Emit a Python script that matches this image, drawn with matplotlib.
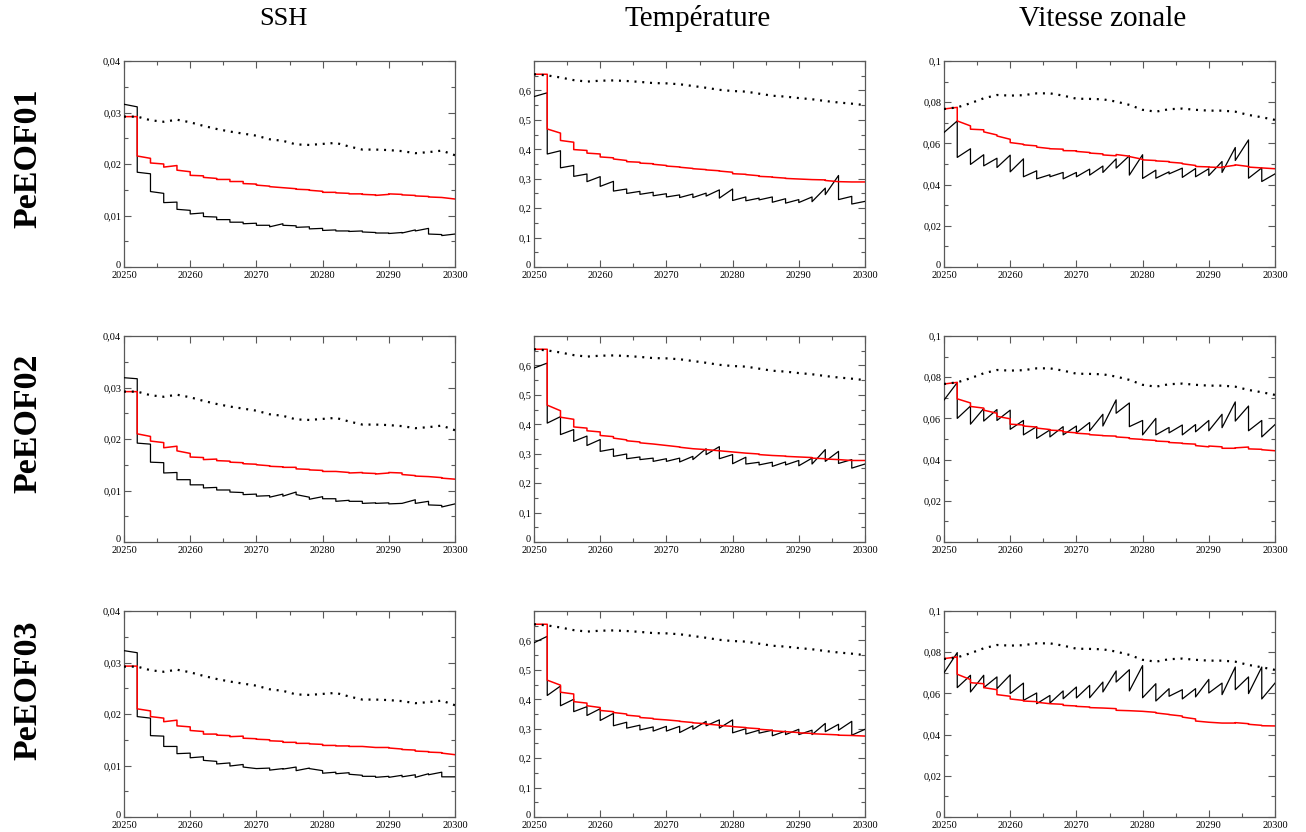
import numpy as np
import matplotlib
matplotlib.use("Agg")
import matplotlib.pyplot as plt
import matplotlib.transforms as mtransforms
from matplotlib.ticker import FixedLocator, MultipleLocator, FuncFormatter

# ---------------- data ----------------
cycle_edges = np.arange(20250, 20301, 2)  # assimilation cycles (2-day)

col_titles = ["SSH", "Température", "Vitesse zonale"]
row_labels = ["PeEOF01", "PeEOF02", "PeEOF03"]

# free run (dotted), one per variable, at cycle edges
ssh_free = [0.0292, 0.0292, 0.0285, 0.0282, 0.0286, 0.0281, 0.0274, 0.0268, 0.0263, 0.0259, 0.0255, 0.0248, 0.0245,
            0.0238, 0.0237, 0.0239, 0.0241, 0.0234, 0.0228, 0.0228, 0.0227, 0.0225, 0.0221, 0.0223, 0.0226, 0.0217]
temp_free = [0.655, 0.651, 0.644, 0.635, 0.630, 0.633, 0.634, 0.632, 0.629, 0.625, 0.624, 0.621, 0.615,
             0.609, 0.602, 0.598, 0.596, 0.589, 0.582, 0.579, 0.574, 0.570, 0.564, 0.559, 0.555, 0.550]
u_free = [0.0767, 0.0775, 0.0795, 0.0819, 0.0835, 0.0832, 0.0834, 0.0843, 0.0843, 0.0832, 0.0817, 0.0816, 0.0814,
          0.0803, 0.0787, 0.0763, 0.0754, 0.0766, 0.0769, 0.0763, 0.0759, 0.0759, 0.0754, 0.0738, 0.0727, 0.0714]

# black (forecast) and red (analysis): value at start and end of each cycle
ssh_b1_start = [0.0316, 0.0184, 0.01465, 0.0125, 0.0112, 0.0103, 0.0098, 0.0092, 0.0087, 0.0084, 0.0081, 0.0078, 0.0081,
                0.0077, 0.0074, 0.0071, 0.0070, 0.0069, 0.0068, 0.0066, 0.0065, 0.0066, 0.0070, 0.0064, 0.0061]
ssh_b1_end = [0.0311, 0.0181, 0.0143, 0.0126, 0.0110, 0.0105, 0.0097, 0.0092, 0.0087, 0.0085, 0.0081, 0.0084, 0.0080,
              0.0078, 0.0075, 0.0072, 0.0070, 0.0070, 0.0067, 0.0066, 0.0067, 0.0072, 0.0075, 0.0063, 0.0064]
ssh_r1_start = [0.0292, 0.02155, 0.0202, 0.0194, 0.0188, 0.0178, 0.0174, 0.0170, 0.0166, 0.0162, 0.0159, 0.0156, 0.0154,
                0.0151, 0.0149, 0.0145, 0.0144, 0.0142, 0.0141, 0.0139, 0.0142, 0.0140, 0.0138, 0.0136, 0.0135]
ssh_r1_end = [0.0292, 0.0211, 0.0200, 0.0197, 0.0185, 0.0177, 0.0172, 0.0170, 0.0166, 0.0161, 0.0157, 0.0154, 0.0152,
              0.0150, 0.0147, 0.0145, 0.0143, 0.0142, 0.0140, 0.0141, 0.0141, 0.0139, 0.0137, 0.0135, 0.0132]

ssh_b2_start = [0.0319, 0.0192, 0.0155, 0.0134, 0.0121, 0.0111, 0.0105, 0.0101, 0.0097, 0.0092, 0.0089, 0.0087, 0.0089,
                0.0092, 0.0083, 0.0084, 0.0079, 0.0079, 0.0075, 0.0075, 0.0074, 0.0075, 0.0075, 0.0072, 0.0068]
ssh_b2_end = [0.0317, 0.0190, 0.0154, 0.0135, 0.0121, 0.0111, 0.0106, 0.0101, 0.0096, 0.0093, 0.0090, 0.0093, 0.0097,
              0.0087, 0.0088, 0.0084, 0.0081, 0.0079, 0.0076, 0.0076, 0.0075, 0.0082, 0.0079, 0.0071, 0.0074]
ssh_r2_start = [0.0292, 0.0210, 0.0196, 0.0183, 0.0177, 0.0165, 0.0160, 0.0158, 0.0155, 0.0152, 0.0150, 0.0147, 0.0145,
                0.0142, 0.0140, 0.0137, 0.0137, 0.0134, 0.0134, 0.0132, 0.0135, 0.0131, 0.0128, 0.0127, 0.0124]
ssh_r2_end = [0.0292, 0.0205, 0.0193, 0.0186, 0.0172, 0.0164, 0.0161, 0.0157, 0.0154, 0.0151, 0.0148, 0.0146, 0.0145,
              0.0141, 0.0139, 0.0137, 0.0135, 0.0135, 0.0133, 0.0134, 0.0134, 0.0129, 0.0127, 0.0125, 0.0122]

ssh_b3_start = [0.0323, 0.0195, 0.0158, 0.0137, 0.0123, 0.0115, 0.0110, 0.0103, 0.0099, 0.0097, 0.0094, 0.0091, 0.0093,
                0.0090, 0.0094, 0.0085, 0.0084, 0.0083, 0.0079, 0.0077, 0.0077, 0.0078, 0.0077, 0.0082, 0.0078]
ssh_b3_end = [0.0319, 0.0192, 0.0157, 0.0137, 0.0124, 0.0117, 0.0108, 0.0105, 0.0102, 0.0094, 0.0095, 0.0094, 0.0097,
              0.0095, 0.0090, 0.0087, 0.0086, 0.0081, 0.0079, 0.0079, 0.0081, 0.0082, 0.0084, 0.0087, 0.0078]
ssh_r3_start = [0.0293, 0.0210, 0.0195, 0.0185, 0.0177, 0.0168, 0.0161, 0.0159, 0.0156, 0.0153, 0.0151, 0.0148, 0.0145,
                0.0143, 0.0142, 0.0139, 0.0138, 0.0137, 0.0137, 0.0135, 0.0134, 0.0131, 0.0128, 0.0126, 0.0124]
ssh_r3_end = [0.0293, 0.0206, 0.0192, 0.0188, 0.0175, 0.0166, 0.0161, 0.0158, 0.0157, 0.0152, 0.0150, 0.0147, 0.0145,
              0.0143, 0.0141, 0.0139, 0.0138, 0.0137, 0.0135, 0.0135, 0.0132, 0.0130, 0.0127, 0.0125, 0.0121]

t_b1_start = [0.579, 0.384, 0.337, 0.308, 0.290, 0.274, 0.258, 0.250, 0.247, 0.242, 0.238, 0.236, 0.236,
              0.241, 0.234, 0.226, 0.225, 0.228, 0.220, 0.217, 0.219, 0.222, 0.246, 0.229, 0.214]
t_b1_end = [0.592, 0.395, 0.345, 0.316, 0.307, 0.291, 0.265, 0.257, 0.254, 0.249, 0.245, 0.248, 0.251,
            0.262, 0.265, 0.238, 0.234, 0.238, 0.232, 0.229, 0.238, 0.268, 0.311, 0.240, 0.223]
t_r1_start = [0.655, 0.469, 0.430, 0.399, 0.387, 0.374, 0.367, 0.358, 0.353, 0.349, 0.343, 0.339, 0.334,
              0.330, 0.326, 0.317, 0.314, 0.308, 0.305, 0.301, 0.299, 0.297, 0.294, 0.290, 0.289]
t_r1_end = [0.655, 0.455, 0.424, 0.396, 0.384, 0.371, 0.362, 0.356, 0.351, 0.345, 0.340, 0.335, 0.331,
            0.327, 0.322, 0.315, 0.310, 0.306, 0.302, 0.299, 0.297, 0.296, 0.290, 0.289, 0.289]

t_b2_start = [0.591, 0.404, 0.365, 0.342, 0.328, 0.308, 0.291, 0.283, 0.280, 0.274, 0.274, 0.272, 0.280,
              0.297, 0.283, 0.266, 0.265, 0.262, 0.257, 0.262, 0.259, 0.265, 0.274, 0.267, 0.251]
t_b2_end = [0.608, 0.426, 0.382, 0.360, 0.348, 0.316, 0.299, 0.289, 0.285, 0.283, 0.285, 0.291, 0.317,
            0.324, 0.297, 0.288, 0.271, 0.271, 0.272, 0.277, 0.285, 0.314, 0.308, 0.280, 0.265]
t_r2_start = [0.655, 0.465, 0.424, 0.391, 0.378, 0.362, 0.353, 0.344, 0.337, 0.333, 0.328, 0.322, 0.317,
              0.314, 0.310, 0.306, 0.302, 0.297, 0.294, 0.291, 0.289, 0.285, 0.282, 0.280, 0.277]
t_r2_end = [0.655, 0.446, 0.417, 0.387, 0.374, 0.358, 0.347, 0.340, 0.333, 0.328, 0.323, 0.317, 0.314,
            0.310, 0.306, 0.302, 0.299, 0.294, 0.292, 0.289, 0.287, 0.283, 0.280, 0.277, 0.277]

t_b3_start = [0.592, 0.413, 0.378, 0.358, 0.345, 0.328, 0.310, 0.302, 0.296, 0.292, 0.292, 0.287, 0.298,
              0.310, 0.302, 0.286, 0.282, 0.285, 0.276, 0.280, 0.280, 0.280, 0.290, 0.295, 0.278]
t_b3_end = [0.614, 0.445, 0.400, 0.375, 0.368, 0.352, 0.322, 0.312, 0.306, 0.308, 0.308, 0.310, 0.325,
            0.330, 0.330, 0.300, 0.295, 0.295, 0.292, 0.298, 0.295, 0.318, 0.315, 0.325, 0.298]
t_r3_start = [0.655, 0.465, 0.424, 0.392, 0.378, 0.362, 0.355, 0.346, 0.338, 0.333, 0.330, 0.325, 0.320,
              0.316, 0.311, 0.307, 0.303, 0.298, 0.293, 0.290, 0.286, 0.283, 0.281, 0.278, 0.277]
t_r3_end = [0.655, 0.448, 0.418, 0.387, 0.372, 0.358, 0.350, 0.342, 0.335, 0.330, 0.326, 0.321, 0.317,
            0.312, 0.308, 0.304, 0.300, 0.295, 0.290, 0.287, 0.284, 0.281, 0.279, 0.277, 0.275]

u_b1_start = [0.0653, 0.0532, 0.0498, 0.0491, 0.0483, 0.0462, 0.0438, 0.0428, 0.0438, 0.0428, 0.0438, 0.0446, 0.0459,
              0.0480, 0.0446, 0.0430, 0.0431, 0.0452, 0.0435, 0.0438, 0.0444, 0.0459, 0.0517, 0.0431, 0.0415]
u_b1_end = [0.0709, 0.0574, 0.0545, 0.0528, 0.0543, 0.0525, 0.0467, 0.0448, 0.0459, 0.0459, 0.0475, 0.0490, 0.0525,
            0.0540, 0.0545, 0.0470, 0.0462, 0.0480, 0.0478, 0.0477, 0.0512, 0.0580, 0.0617, 0.0481, 0.0452]
u_r1_start = [0.0767, 0.0709, 0.0669, 0.0656, 0.0636, 0.0604, 0.0593, 0.0582, 0.0574, 0.0565, 0.0561, 0.0553, 0.0544,
              0.0546, 0.0536, 0.0520, 0.0515, 0.0509, 0.0501, 0.0488, 0.0485, 0.0485, 0.0496, 0.0485, 0.0481]
u_r1_end = [0.0775, 0.0685, 0.0666, 0.0641, 0.0620, 0.0596, 0.0588, 0.0575, 0.0572, 0.0564, 0.0556, 0.0549, 0.0540,
            0.0538, 0.0523, 0.0517, 0.0512, 0.0504, 0.0493, 0.0486, 0.0483, 0.0494, 0.0488, 0.0481, 0.0477]

u_b2_start = [0.0689, 0.0600, 0.0572, 0.0587, 0.0590, 0.0547, 0.0520, 0.0503, 0.0510, 0.0520, 0.0530, 0.0540, 0.0563,
              0.0625, 0.0560, 0.0520, 0.0520, 0.0530, 0.0520, 0.0535, 0.0540, 0.0555, 0.0587, 0.0540, 0.0510]
u_b2_end = [0.0774, 0.0660, 0.0648, 0.0643, 0.0640, 0.0590, 0.0560, 0.0544, 0.0560, 0.0563, 0.0580, 0.0620, 0.0690,
            0.0675, 0.0590, 0.0600, 0.0556, 0.0568, 0.0570, 0.0590, 0.0620, 0.0680, 0.0660, 0.0590, 0.0570]
u_r2_start = [0.0767, 0.0695, 0.0658, 0.0640, 0.0610, 0.0572, 0.0563, 0.0553, 0.0543, 0.0535, 0.0528, 0.0521, 0.0516,
              0.0510, 0.0502, 0.0497, 0.0490, 0.0483, 0.0478, 0.0468, 0.0466, 0.0455, 0.0457, 0.0452, 0.0448]
u_r2_end = [0.0775, 0.0675, 0.0650, 0.0625, 0.0598, 0.0568, 0.0558, 0.0546, 0.0540, 0.0530, 0.0524, 0.0517, 0.0514,
            0.0506, 0.0498, 0.0493, 0.0487, 0.0480, 0.0475, 0.0462, 0.0462, 0.0455, 0.0461, 0.0450, 0.0443]

u_b3_start = [0.0700, 0.0628, 0.0607, 0.0628, 0.0623, 0.0599, 0.0566, 0.0550, 0.0553, 0.0574, 0.0578, 0.0579, 0.0607,
              0.0655, 0.0612, 0.0579, 0.0563, 0.0586, 0.0573, 0.0583, 0.0602, 0.0594, 0.0618, 0.0599, 0.0573]
u_b3_end = [0.0798, 0.0688, 0.0688, 0.0680, 0.0690, 0.0650, 0.0602, 0.0590, 0.0612, 0.0631, 0.0639, 0.0655, 0.0709,
            0.0715, 0.0735, 0.0647, 0.0623, 0.0618, 0.0623, 0.0668, 0.0650, 0.0728, 0.0680, 0.0728, 0.0650]
u_r3_start = [0.0769, 0.0693, 0.0652, 0.0628, 0.0594, 0.0573, 0.0563, 0.0557, 0.0550, 0.0542, 0.0537, 0.0531, 0.0529,
              0.0518, 0.0516, 0.0513, 0.0505, 0.0497, 0.0485, 0.0466, 0.0460, 0.0456, 0.0458, 0.0450, 0.0443]
u_r3_end = [0.0777, 0.0667, 0.0647, 0.0618, 0.0586, 0.0566, 0.0560, 0.0550, 0.0547, 0.0539, 0.0534, 0.0529, 0.0526,
            0.0516, 0.0513, 0.0508, 0.0498, 0.0490, 0.0476, 0.0460, 0.0456, 0.0456, 0.0453, 0.0445, 0.0442]

x_ticks = [20250, 20260, 20270, 20280, 20290, 20300]
ssh_ticks = [0, 0.01, 0.02, 0.03, 0.04]
temp_ticks = [0, 0.1, 0.2, 0.3, 0.4, 0.5, 0.6]
u_ticks = [0, 0.02, 0.04, 0.06, 0.08, 0.1]

panels = [
    [(ssh_b1_start, ssh_b1_end, ssh_r1_start, ssh_r1_end, ssh_free),
     (t_b1_start, t_b1_end, t_r1_start, t_r1_end, temp_free),
     (u_b1_start, u_b1_end, u_r1_start, u_r1_end, u_free)],
    [(ssh_b2_start, ssh_b2_end, ssh_r2_start, ssh_r2_end, ssh_free),
     (t_b2_start, t_b2_end, t_r2_start, t_r2_end, temp_free),
     (u_b2_start, u_b2_end, u_r2_start, u_r2_end, u_free)],
    [(ssh_b3_start, ssh_b3_end, ssh_r3_start, ssh_r3_end, ssh_free),
     (t_b3_start, t_b3_end, t_r3_start, t_r3_end, temp_free),
     (u_b3_start, u_b3_end, u_r3_start, u_r3_end, u_free)],
]
col_yaxis = [(0.04, ssh_ticks, 0.005), (0.7, temp_ticks, 0.05), (0.1, u_ticks, 0.01)]

# ---------------- drawing ----------------
W, H = 1306, 832
fig = plt.figure(figsize=(W / 100, H / 100), dpi=100)
fig.patch.set_facecolor("white")
SERIF = ["Liberation Serif", "DejaVu Serif"]


def fmt(v, pos):
    if abs(v) < 1e-12:
        return "0"
    s = ("%.3f" % v).rstrip("0")
    return s.replace(".", ",")


def sawtooth(starts, ends):
    xs, ys = [], []
    for i in range(len(starts)):
        xs += [cycle_edges[i], cycle_edges[i + 1]]
        ys += [starts[i], ends[i]]
    return xs, ys


col_left = [124, 534, 944]
row_top = [61, 336, 611]
aw, ah = 331, 206
frame_col = "0.35"
lift = mtransforms.ScaledTranslation(0, 3 / 100, fig.dpi_scale_trans)

for r in range(3):
    for c in range(3):
        ax = fig.add_axes([col_left[c] / W, 1 - (row_top[r] + ah) / H, aw / W, ah / H])
        bs, be, rs, re_, free = panels[r][c]
        xb, yb = sawtooth(bs, be)
        ax.plot(xb, yb, color="black", lw=0.9, zorder=3)
        xr, yr = sawtooth(rs, re_)
        ax.plot(xr, yr, color="#ff0000", lw=1.1, zorder=4)
        ax.plot(cycle_edges, free, color="black", lw=1.6, linestyle=(0, (0.9, 2.6)),
                dash_capstyle="butt", zorder=5)
        ymax, yt, yminor = col_yaxis[c]
        ax.set_xlim(20250, 20300)
        ax.set_ylim(0, ymax)
        ax.xaxis.set_major_locator(FixedLocator(x_ticks))
        ax.xaxis.set_minor_locator(MultipleLocator(5))
        ax.yaxis.set_major_locator(FixedLocator(yt))
        ax.yaxis.set_minor_locator(MultipleLocator(yminor))
        ax.yaxis.set_major_formatter(FuncFormatter(fmt))
        ax.tick_params(which="both", direction="in", top=True, right=True, color=frame_col, width=0.8)
        ax.tick_params(which="major", length=5, labelsize=7.5, pad=2)
        ax.tick_params(which="minor", length=3)
        ax.tick_params(axis="x", which="major", pad=3)
        for lab in ax.get_xticklabels() + ax.get_yticklabels():
            lab.set_fontfamily(SERIF)
        # the "0" label sits just above the lower-left corner, as in the reference
        ylabs = ax.get_yticklabels()
        ylabs[0].set_transform(ylabs[0].get_transform() + lift)
        for sp in ax.spines.values():
            sp.set_color(frame_col)
            sp.set_linewidth(0.9)

title_x = [283, 698, 1103]
title_size = [19, 21, 21]
for c in range(3):
    fig.text(title_x[c] / W, 1 - 19 / H, col_titles[c], ha="center", va="center",
             fontsize=title_size[c], family=SERIF)

label_y = [158, 423, 690]
for r in range(3):
    fig.text(28 / W, 1 - label_y[r] / H, row_labels[r], ha="center", va="center",
             rotation=90, fontsize=24.5, fontweight="bold", family=SERIF)

fig.savefig("out.png", dpi=100, facecolor="white")
